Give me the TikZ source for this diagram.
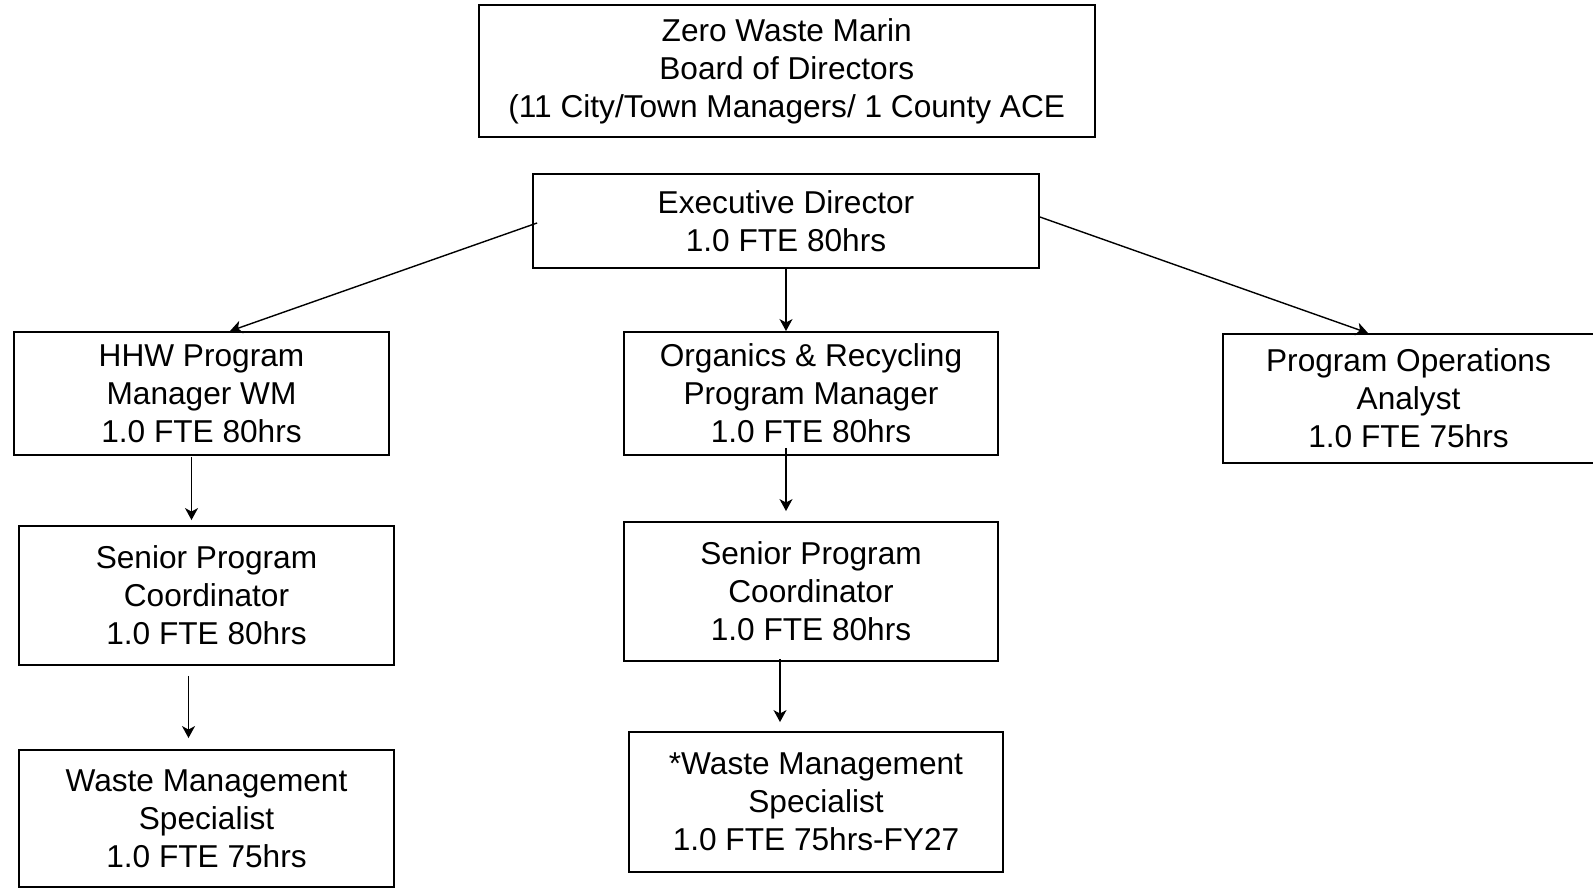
\documentclass[tikz,border=0pt]{standalone}
\usepackage{fontspec}
\setmainfont{Liberation Sans}
\usetikzlibrary{arrows.meta}

\begin{document}
\begin{tikzpicture}[x=0.02cm,y=-0.02cm,
    every node/.style={draw,line width=1.1pt,align=center,inner sep=0pt,
      font=\fontsize{18}{21.6}\selectfont},
    arr/.style={line width=0.8pt,-{Stealth[length=0.24cm,width=0.26cm,inset=0.07cm]}}]
  \useasboundingbox (0,0) rectangle (1593,889);
  % top of the chart
  \node[minimum width=12.33cm,minimum height=2.64cm] (board) at (786.75,71)
    {Zero Waste Marin\\Board of Directors\\(11 City/Town Managers/ 1 County ACE};
  \node[minimum width=10.12cm,minimum height=1.88cm] (exec) at (786,221)
    {Executive Director\\1.0 FTE 80hrs};
  % managers
  \node[minimum width=7.5cm,minimum height=2.46cm] (hhw) at (201.5,393.5)
    {HHW Program\\Manager WM\\1.0 FTE 80hrs};
  \node[minimum width=7.48cm,minimum height=2.46cm] (org) at (811,393.5)
    {Organics \& Recycling\\Program Manager\\1.0 FTE 80hrs};
  \node[minimum width=7.42cm,minimum height=2.58cm] (ops) at (1408.5,398.5)
    {Program Operations\\Analyst\\1.0 FTE 75hrs};
  % coordinators
  \node[minimum width=7.5cm,minimum height=2.78cm] (senL) at (206.5,595.5)
    {Senior Program\\Coordinator\\1.0 FTE 80hrs};
  \node[minimum width=7.48cm,minimum height=2.78cm] (senM) at (811,591.5)
    {Senior Program\\Coordinator\\1.0 FTE 80hrs};
  % specialists
  \node[minimum width=7.5cm,minimum height=2.74cm] (wmsL) at (206.5,818.5)
    {Waste Management\\Specialist\\1.0 FTE 75hrs};
  \node[minimum width=7.48cm,minimum height=2.8cm] (wmsM) at (816,802)
    {*Waste Management\\Specialist\\1.0 FTE 75hrs-FY27};
  % connectors
  \draw[arr] ([xshift=0.1cm,yshift=-0.04cm]exec.west) -- ([xshift=0.57cm]hhw.north);
  \draw[arr] ([yshift=0.08cm]exec.east) -- ([xshift=-0.81cm]ops.north);
  \draw[arr] (exec.south) -- (exec.south |- org.north);
  \draw[arr,shorten <=-0.16cm,shorten >=0.2cm] (exec.south |- org.south) -- (exec.south |- senM.north);
  \draw[arr,shorten <=0.03cm,shorten >=0.1cm] ([xshift=-0.2cm]hhw.south) -- ([xshift=-0.2cm]hhw.south |- senL.north);
  \draw[arr,shorten <=0.2cm,shorten >=0.22cm] ([xshift=-0.36cm]senL.south) -- ([xshift=-0.36cm]senL.south |- wmsL.north);
  \draw[arr,shorten <=-0.06cm,shorten >=0.18cm] ([xshift=-0.62cm]senM.south) -- ([xshift=-0.62cm]senM.south |- wmsM.north);
\end{tikzpicture}
\end{document}
